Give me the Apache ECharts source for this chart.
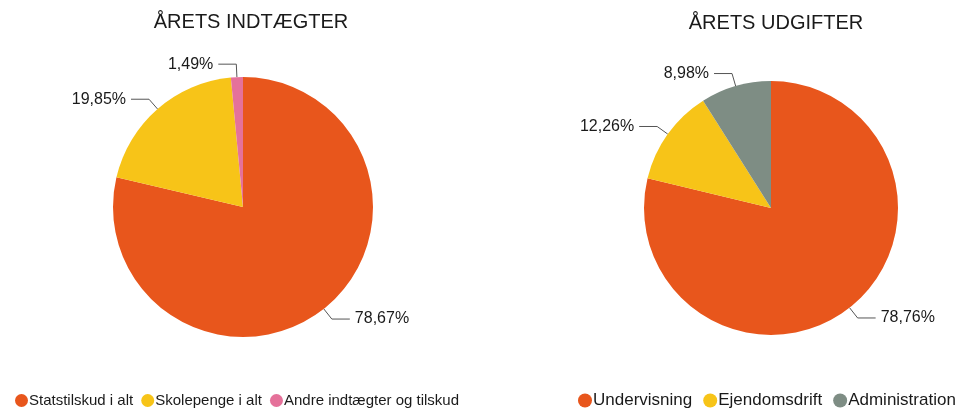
<!DOCTYPE html>
<html><head><meta charset="utf-8">
<script src="https://cdn.jsdelivr.net/npm/echarts@6/dist/echarts.min.js"></script>
<style>html,body{margin:0;padding:0;background:#fff}#c{width:962px;height:408px}</style>
</head><body><div id="c"></div>
<script>
const incomeNames = ['Statstilskud i alt', 'Skolepenge i alt', 'Andre indtægter og tilskud'];
const incomeValues = [78.67, 19.85, 1.49];
const incomeColors = ['#E8561C', '#F7C418', '#E5719A'];
const expenseNames = ['Undervisning', 'Ejendomsdrift', 'Administration'];
const expenseValues = [78.76, 12.26, 8.98];
const expenseColors = ['#E8561C', '#F7C418', '#7E8D84'];

const fmt = p => p.value.toFixed(2).replace('.', ',') + '%';
const font = 'Liberation Sans, Arial, sans-serif';
function mk(names, vals, colors){ return names.map((n,i)=>({name:n, value:vals[i], itemStyle:{color:colors[i]}})); }
const labelCfg = {show:true, formatter:fmt, color:'#1a1a1a', fontSize:16, fontFamily:font};
const lineCfg = {show:true, length:13, length2:18, lineStyle:{color:'#555', width:1}};

const chart = echarts.init(document.getElementById('c'));
chart.setOption({
  animation:false,
  title:[
    {text:'ÅRETS INDTÆGTER', left:246, top:7, textAlign:'center', textStyle:{fontSize:20, fontWeight:'normal', color:'#1a1a1a', fontFamily:font}},
    {text:'ÅRETS UDGIFTER', left:771, top:8, textAlign:'center', textStyle:{fontSize:20, fontWeight:'normal', color:'#1a1a1a', fontFamily:font}}
  ],
  legend:[
    {data:incomeNames, left:10, top:388, icon:'circle', itemWidth:13, itemHeight:13, itemGap:8, textStyle:{fontSize:15, color:'#1a1a1a', fontFamily:font, padding:[0,0,0,-4]}},
    {data:expenseNames, left:573, top:387, icon:'circle', itemWidth:14, itemHeight:14, itemGap:11, textStyle:{fontSize:17, color:'#1a1a1a', fontFamily:font, padding:[0,0,0,-4]}}
  ],
  series:[
    {type:'pie', center:[243,207], radius:130, startAngle:90, clockwise:true, data:mk(incomeNames, incomeValues, incomeColors), label:labelCfg, labelLine:lineCfg, emphasis:{disabled:true}},
    {type:'pie', center:[771,208], radius:127, startAngle:90, clockwise:true, data:mk(expenseNames, expenseValues, expenseColors), label:labelCfg, labelLine:lineCfg, emphasis:{disabled:true}}
  ]
});
</script></body></html>
